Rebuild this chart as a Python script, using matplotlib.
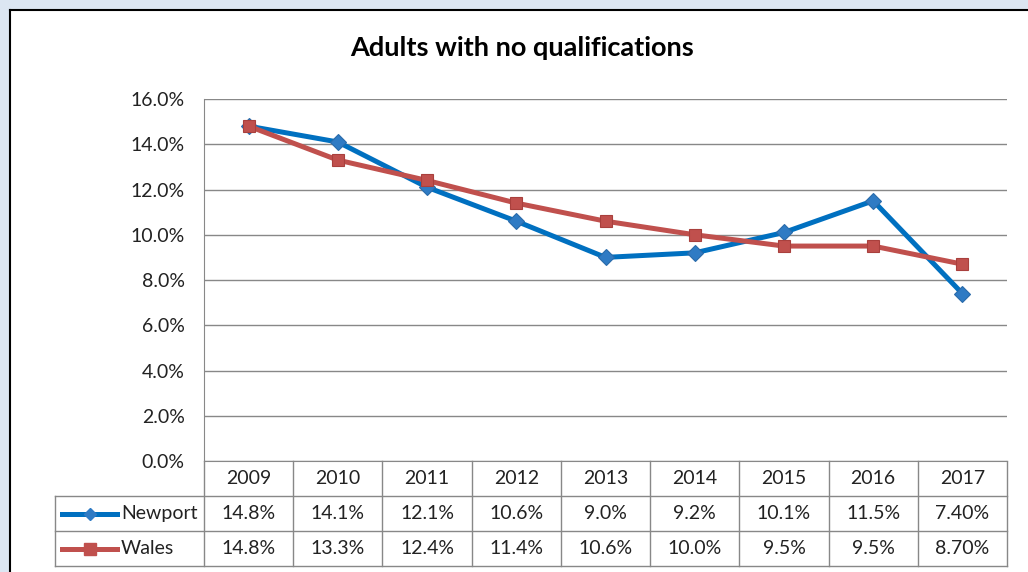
import numpy as np
import matplotlib
matplotlib.use('Agg')
import matplotlib.pyplot as plt
from matplotlib.patches import Rectangle
from matplotlib.lines import Line2D

plt.rcParams['font.family'] = ['Lato', 'DejaVu Sans']

# data
years = ['2009', '2010', '2011', '2012', '2013', '2014', '2015', '2016', '2017']
newport = [14.8, 14.1, 12.1, 10.6, 9.0, 9.2, 10.1, 11.5, 7.4]
wales = [14.8, 13.3, 12.4, 11.4, 10.6, 10.0, 9.5, 9.5, 8.7]
newport_labels = ['14.8%', '14.1%', '12.1%', '10.6%', '9.0%', '9.2%', '10.1%', '11.5%', '7.40%']
wales_labels = ['14.8%', '13.3%', '12.4%', '11.4%', '10.6%', '10.0%', '9.5%', '9.5%', '8.70%']
y_ticks = [0, 2, 4, 6, 8, 10, 12, 14, 16]

W, H = 1028, 572
blue = '#0070C0'
red = '#C0504D'
grid_col = '#888888'
txt_col = '#222222'
fs = 14

fig = plt.figure(figsize=(W / 100, H / 100), dpi=100)
fig.patch.set_facecolor('#DCE6F2')

def fx(px):
    return px / W

def fy(py):
    return 1 - py / H

# white chart area with dark border on the top and left
fig.patches.append(Rectangle((fx(10), 0), 1 - fx(10), fy(10), transform=fig.transFigure,
                             facecolor='white', edgecolor='none', zorder=-10))
fig.lines.append(Line2D([fx(10), 1], [fy(10), fy(10)], transform=fig.transFigure, color='black', lw=1.5))
fig.lines.append(Line2D([fx(10), fx(10)], [fy(10), 0], transform=fig.transFigure, color='black', lw=1.5))

# plot area
left, right, top, bottom = 204, 1007, 99, 461
ax = fig.add_axes([fx(left), fy(bottom), fx(right - left), fy(top) - fy(bottom)])
ax.patch.set_alpha(0)
x = np.arange(len(years))
ax.set_xlim(-0.5, len(years) - 0.5)
ax.set_ylim(0, 16)
ax.set_yticks(y_ticks)
ax.set_yticklabels(['%.1f%%' % v for v in y_ticks], fontsize=fs, color=txt_col)
ax.set_xticks([])
ax.tick_params(axis='y', length=0, pad=14)
ax.grid(axis='y', color=grid_col, lw=1)
ax.set_axisbelow(True)
for s in ['top', 'right']:
    ax.spines[s].set_visible(False)
ax.spines['left'].set_color(grid_col)
ax.spines['bottom'].set_color(grid_col)

ax.plot(x, newport, color=blue, lw=3.6, marker='D', ms=8, mfc='#2F7BC4', mec='#2A6BAA',
        mew=0.8, clip_on=False, zorder=3)
ax.plot(x, wales, color=red, lw=3.6, marker='s', ms=9, mfc=red, mec='#A9403D',
        mew=0.8, clip_on=False, zorder=3)

fig.text(fx(522), fy(48), 'Adults with no qualifications', ha='center', va='center',
         fontsize=19.5, fontweight='bold')

# data table below the plot
t_left, t_bottom = 55, 566
upx = (len(years)) / (right - left)
x0 = -0.5 - (left - t_left) * upx
tax = fig.add_axes([fx(t_left), fy(t_bottom), fx(right - t_left), fy(bottom) - fy(t_bottom)])
tax.set_xlim(x0, len(years) - 0.5)
tax.set_ylim(3, 0)
tax.axis('off')

for r in [1, 2, 3]:
    tax.plot([x0, len(years) - 0.5], [r, r], color=grid_col, lw=1, clip_on=False)
for k in range(len(years) + 1):
    tax.plot([k - 0.5, k - 0.5], [0, 3], color=grid_col, lw=1, clip_on=False)
tax.plot([x0, x0], [1, 3], color=grid_col, lw=1, clip_on=False)

for i, yr in enumerate(years):
    tax.text(i, 0.5, yr, ha='center', va='center', fontsize=fs, color=txt_col)
    tax.text(i, 1.5, newport_labels[i], ha='center', va='center', fontsize=fs, color=txt_col)
    tax.text(i, 2.5, wales_labels[i], ha='center', va='center', fontsize=fs, color=txt_col)

# legend keys
k0 = x0 + 7 * upx
k1 = x0 + 62 * upx
tax.plot([k0, k1], [1.5, 1.5], color=blue, lw=3.6, clip_on=False)
tax.plot([(k0 + k1) / 2], [1.5], marker='D', ms=6, color='#2F7BC4', clip_on=False)
tax.plot([k0, k1], [2.5, 2.5], color=red, lw=3.6, clip_on=False)
tax.plot([(k0 + k1) / 2], [2.5], marker='s', ms=8, color=red, clip_on=False)
tax.text(k1 + 4 * upx, 1.5, 'Newport', ha='left', va='center', fontsize=fs, color=txt_col)
tax.text(k1 + 4 * upx, 2.5, 'Wales', ha='left', va='center', fontsize=fs, color=txt_col)

fig.savefig('out.png', dpi=100)
